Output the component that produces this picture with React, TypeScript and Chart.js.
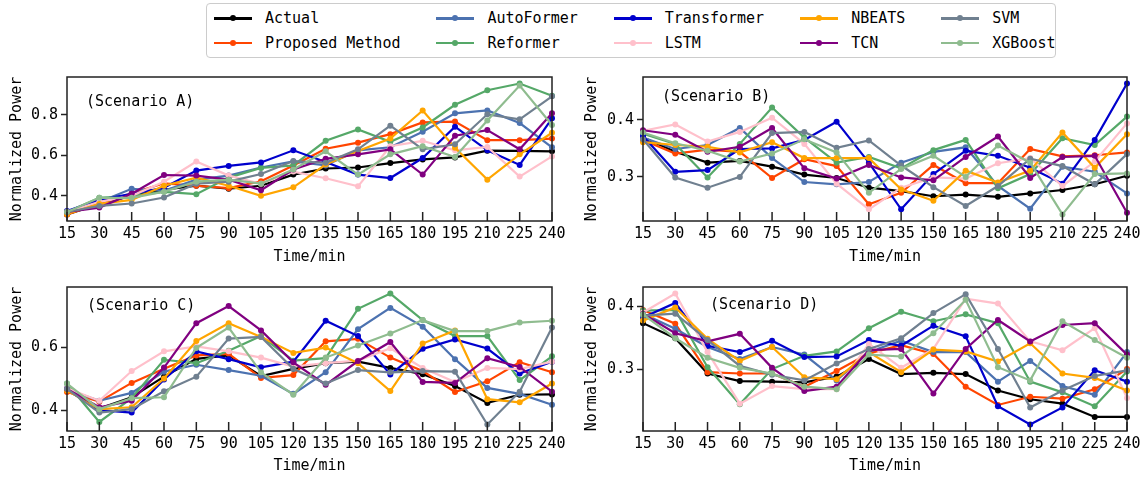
import React, { useEffect, useRef } from 'react';
import { Chart, registerables } from 'chart.js';

Chart.register(...registerables);

const FONT = '"DejaVu Sans Mono", monospace';

const timeLabels = ['15', '30', '45', '60', '75', '90', '105', '120', '135', '150', '165', '180', '195', '210', '225', '240'];

const seriesNames = ['Actual', 'Proposed Method', 'AutoFormer', 'Reformer', 'Transformer', 'LSTM', 'NBEATS', 'TCN', 'SVM', 'XGBoost'];
const seriesColors = ['#000000', '#FF4500', '#4C72B0', '#55A868', '#0000CD', '#FFC0CB', '#FFA500', '#800080', '#708090', '#8FBC8F'];

// Scenario A
const aActual = [0.308, 0.36, 0.40, 0.43, 0.45, 0.435, 0.45, 0.505, 0.535, 0.54, 0.562, 0.58, 0.59, 0.623, 0.622, 0.62];
const aProposed = [0.308, 0.362, 0.412, 0.462, 0.45, 0.438, 0.472, 0.55, 0.633, 0.663, 0.705, 0.763, 0.767, 0.675, 0.675, 0.683];
const aAutoFormer = [0.32, 0.37, 0.435, 0.425, 0.48, 0.50, 0.54, 0.57, 0.55, 0.625, 0.64, 0.717, 0.808, 0.822, 0.76, 0.64];
const aReformer = [0.32, 0.39, 0.40, 0.42, 0.408, 0.49, 0.538, 0.55, 0.672, 0.728, 0.667, 0.738, 0.85, 0.922, 0.955, 0.895];
const aTransformer = [0.325, 0.38, 0.41, 0.44, 0.525, 0.548, 0.565, 0.625, 0.567, 0.505, 0.488, 0.587, 0.742, 0.625, 0.553, 0.783];
const aLSTM = [0.32, 0.37, 0.40, 0.47, 0.57, 0.50, 0.46, 0.52, 0.487, 0.447, 0.645, 0.672, 0.625, 0.642, 0.495, 0.595];
const aNBEATS = [0.31, 0.36, 0.38, 0.45, 0.49, 0.45, 0.40, 0.442, 0.555, 0.622, 0.683, 0.822, 0.638, 0.48, 0.605, 0.712];
const aTCN = [0.32, 0.342, 0.41, 0.503, 0.50, 0.48, 0.428, 0.53, 0.583, 0.605, 0.63, 0.505, 0.697, 0.725, 0.63, 0.808];
const aSVM = [0.32, 0.35, 0.362, 0.392, 0.46, 0.47, 0.508, 0.572, 0.563, 0.63, 0.747, 0.63, 0.655, 0.803, 0.778, 0.892];
const aXGBoost = [0.32, 0.39, 0.39, 0.42, 0.47, 0.48, 0.46, 0.53, 0.62, 0.505, 0.605, 0.645, 0.592, 0.772, 0.945, 0.75];

// Scenario B
const bActual = [0.369, 0.344, 0.325, 0.328, 0.318, 0.304, 0.298, 0.281, 0.275, 0.266, 0.269, 0.265, 0.271, 0.277, 0.287, 0.302];
const bProposed = [0.365, 0.341, 0.348, 0.344, 0.298, 0.331, 0.319, 0.252, 0.272, 0.321, 0.289, 0.289, 0.349, 0.336, 0.338, 0.343];
const bAutoFormer = [0.369, 0.349, 0.356, 0.386, 0.333, 0.291, 0.287, 0.291, 0.325, 0.344, 0.352, 0.284, 0.244, 0.318, 0.309, 0.271];
const bReformer = [0.376, 0.358, 0.299, 0.358, 0.422, 0.369, 0.325, 0.335, 0.315, 0.347, 0.365, 0.280, 0.305, 0.368, 0.356, 0.406];
const bTransformer = [0.372, 0.309, 0.312, 0.349, 0.350, 0.365, 0.397, 0.325, 0.243, 0.305, 0.346, 0.337, 0.316, 0.288, 0.365, 0.464];
const bLSTM = [0.381, 0.392, 0.362, 0.379, 0.404, 0.358, 0.288, 0.243, 0.281, 0.299, 0.297, 0.324, 0.333, 0.284, 0.327, 0.394];
const bNBEATS = [0.361, 0.356, 0.353, 0.343, 0.361, 0.333, 0.333, 0.333, 0.278, 0.258, 0.311, 0.290, 0.311, 0.378, 0.316, 0.375];
const bTCN = [0.382, 0.374, 0.344, 0.353, 0.386, 0.315, 0.297, 0.321, 0.299, 0.294, 0.335, 0.371, 0.298, 0.335, 0.337, 0.237];
const bSVM = [0.366, 0.299, 0.281, 0.300, 0.377, 0.379, 0.351, 0.364, 0.32, 0.282, 0.249, 0.284, 0.332, 0.319, 0.287, 0.340];
const bXGBoost = [0.378, 0.359, 0.346, 0.327, 0.341, 0.366, 0.343, 0.272, 0.314, 0.337, 0.300, 0.355, 0.325, 0.234, 0.305, 0.306];

// Scenario C
const cActual = [0.463, 0.405, 0.441, 0.507, 0.564, 0.575, 0.509, 0.532, 0.55, 0.555, 0.535, 0.515, 0.477, 0.423, 0.449, 0.45];
const cProposed = [0.458, 0.427, 0.487, 0.532, 0.575, 0.58, 0.503, 0.512, 0.62, 0.628, 0.568, 0.525, 0.458, 0.492, 0.553, 0.521];
const cAutoFormer = [0.466, 0.43, 0.455, 0.523, 0.545, 0.528, 0.51, 0.452, 0.521, 0.659, 0.727, 0.667, 0.563, 0.471, 0.452, 0.417];
const cReformer = [0.485, 0.362, 0.438, 0.561, 0.55, 0.59, 0.637, 0.558, 0.566, 0.724, 0.773, 0.688, 0.637, 0.637, 0.496, 0.572];
const cTransformer = [0.468, 0.40, 0.392, 0.498, 0.588, 0.563, 0.537, 0.555, 0.686, 0.637, 0.514, 0.596, 0.626, 0.597, 0.517, 0.555];
const cLSTM = [0.47, 0.43, 0.525, 0.588, 0.604, 0.588, 0.568, 0.539, 0.55, 0.558, 0.598, 0.535, 0.49, 0.535, 0.531, 0.555];
const cNBEATS = [0.463, 0.403, 0.409, 0.501, 0.621, 0.678, 0.634, 0.583, 0.6, 0.55, 0.461, 0.613, 0.655, 0.435, 0.425, 0.485];
const cTCN = [0.468, 0.409, 0.43, 0.536, 0.678, 0.733, 0.655, 0.553, 0.481, 0.557, 0.618, 0.49, 0.487, 0.566, 0.538, 0.459];
const cSVM = [0.468, 0.392, 0.403, 0.46, 0.507, 0.629, 0.634, 0.532, 0.485, 0.528, 0.521, 0.525, 0.523, 0.354, 0.459, 0.664];
const cXGBoost = [0.485, 0.403, 0.438, 0.441, 0.599, 0.664, 0.521, 0.449, 0.568, 0.607, 0.645, 0.688, 0.653, 0.653, 0.68, 0.686];

// Scenario D
const dActual = [0.373, 0.349, 0.293, 0.281, 0.28, 0.279, 0.288, 0.316, 0.292, 0.294, 0.292, 0.266, 0.252, 0.245, 0.224, 0.224];
const dProposed = [0.394, 0.372, 0.295, 0.293, 0.293, 0.272, 0.297, 0.325, 0.338, 0.324, 0.272, 0.243, 0.256, 0.253, 0.268, 0.3];
const dAutoFormer = [0.388, 0.364, 0.335, 0.316, 0.335, 0.323, 0.282, 0.327, 0.345, 0.327, 0.327, 0.28, 0.313, 0.273, 0.259, 0.327];
const dReformer = [0.393, 0.394, 0.303, 0.244, 0.3, 0.321, 0.328, 0.365, 0.391, 0.376, 0.387, 0.373, 0.28, 0.263, 0.241, 0.296];
const dTransformer = [0.382, 0.405, 0.337, 0.327, 0.345, 0.319, 0.32, 0.346, 0.337, 0.369, 0.352, 0.241, 0.212, 0.239, 0.298, 0.28];
const dLSTM = [0.39, 0.42, 0.327, 0.245, 0.273, 0.268, 0.268, 0.34, 0.302, 0.332, 0.412, 0.404, 0.344, 0.33, 0.365, 0.254];
const dNBEATS = [0.377, 0.398, 0.348, 0.313, 0.335, 0.287, 0.284, 0.327, 0.295, 0.331, 0.328, 0.312, 0.341, 0.293, 0.286, 0.266];
const dTCN = [0.388, 0.357, 0.344, 0.356, 0.302, 0.265, 0.272, 0.33, 0.332, 0.261, 0.332, 0.378, 0.344, 0.37, 0.373, 0.323];
const dSVM = [0.385, 0.388, 0.346, 0.305, 0.291, 0.282, 0.309, 0.332, 0.349, 0.389, 0.419, 0.332, 0.239, 0.266, 0.289, 0.298];
const dXGBoost = [0.387, 0.349, 0.318, 0.302, 0.293, 0.272, 0.268, 0.323, 0.32, 0.357, 0.41, 0.303, 0.282, 0.376, 0.346, 0.318];

const ticksAC = [0.4, 0.6, 0.8];
const ticksBD = [0.3, 0.4];

type PanelCfg = {
  label: string;
  series: number[][];
  yTicks: number[];
  left: number;
  top: number;
  width: number;
  height: number;
  yAxisW: number;
  xAxisH: number;
  padTop: number;
  padRight: number;
  textDx: number;
  textDy: number;
};

const panels: PanelCfg[] = [
  {
    label: '(Scenario A)',
    series: [aActual, aProposed, aAutoFormer, aReformer, aTransformer, aLSTM, aNBEATS, aTCN, aSVM, aXGBoost],
    yTicks: ticksAC, left: 0, top: 70, width: 575, height: 200, yAxisW: 67, xAxisH: 49, padTop: 7, padRight: 23,
    textDx: 19, textDy: 25,
  },
  {
    label: '(Scenario B)',
    series: [bActual, bProposed, bAutoFormer, bReformer, bTransformer, bLSTM, bNBEATS, bTCN, bSVM, bXGBoost],
    yTicks: ticksBD, left: 575, top: 70, width: 570, height: 200, yAxisW: 68, xAxisH: 49, padTop: 7, padRight: 18,
    textDx: 19, textDy: 20,
  },
  {
    label: '(Scenario C)',
    series: [cActual, cProposed, cAutoFormer, cReformer, cTransformer, cLSTM, cNBEATS, cTCN, cSVM, cXGBoost],
    yTicks: ticksAC, left: 0, top: 280, width: 575, height: 199, yAxisW: 67, xAxisH: 48, padTop: 7, padRight: 23,
    textDx: 20, textDy: 19,
  },
  {
    label: '(Scenario D)',
    series: [dActual, dProposed, dAutoFormer, dReformer, dTransformer, dLSTM, dNBEATS, dTCN, dSVM, dXGBoost],
    yTicks: ticksBD, left: 575, top: 280, width: 570, height: 199, yAxisW: 68, xAxisH: 48, padTop: 7, padRight: 18,
    textDx: 67, textDy: 18,
  },
];

function Panel({ cfg }: { cfg: PanelCfg }) {
  const ref = useRef<HTMLCanvasElement>(null);
  useEffect(() => {
    const all = cfg.series.flat();
    const lo = Math.min(...all);
    const hi = Math.max(...all);
    const m = (hi - lo) * 0.05;
    const yMin = lo - m;
    const yMax = hi + m;
    const n = cfg.series.length;
    const framePlugin = {
      id: 'frame',
      afterDatasetsDraw(chart: any) {
        const { ctx, chartArea } = chart;
        const xs = chart.scales.x;
        ctx.save();
        ctx.strokeStyle = '#222';
        ctx.lineWidth = 1.5;
        ctx.strokeRect(chartArea.left, chartArea.top, chartArea.right - chartArea.left, chartArea.bottom - chartArea.top);
        ctx.beginPath();
        for (let i = 0; i < timeLabels.length; i++) {
          const x = xs.getPixelForValue(i);
          ctx.moveTo(x, chartArea.bottom);
          ctx.lineTo(x, chartArea.bottom - 9);
        }
        ctx.stroke();
        ctx.fillStyle = '#000';
        ctx.font = `15px ${FONT}`;
        ctx.textAlign = 'left';
        ctx.textBaseline = 'middle';
        ctx.fillText(cfg.label, chartArea.left + cfg.textDx, chartArea.top + cfg.textDy);
        ctx.restore();
      },
    };
    const chart = new Chart(ref.current as HTMLCanvasElement, {
      type: 'line',
      data: {
        labels: timeLabels,
        datasets: cfg.series.map((d, i) => ({
          label: seriesNames[i],
          data: d,
          borderColor: seriesColors[i],
          backgroundColor: seriesColors[i],
          pointBackgroundColor: seriesColors[i],
          pointBorderWidth: 0,
          pointRadius: 3,
          pointHoverRadius: 3,
          borderWidth: 2.2,
          tension: 0,
          order: n - i,
        })),
      },
      options: {
        animation: false,
        responsive: false,
        devicePixelRatio: 1,
        events: [],
        layout: { padding: { top: cfg.padTop, right: cfg.padRight, bottom: 0, left: 0 } },
        plugins: { legend: { display: false }, tooltip: { enabled: false } },
        scales: {
          x: {
            type: 'category',
            offset: false,
            grid: { display: false, drawTicks: false },
            border: { display: false },
            ticks: {
              autoSkip: false,
              maxRotation: 0,
              minRotation: 0,
              padding: 4,
              color: '#000',
              font: { family: FONT, size: 15 },
            },
            title: {
              display: true,
              text: 'Time/min',
              color: '#000',
              font: { family: FONT, size: 15 },
              padding: { top: 0, bottom: 4 },
            },
            afterFit: (s: any) => {
              s.height = cfg.xAxisH;
              s.paddingLeft = 0;
              s.paddingRight = 0;
            },
          },
          y: {
            type: 'linear',
            min: yMin,
            max: yMax,
            grid: {
              display: true,
              drawOnChartArea: false,
              drawTicks: true,
              tickLength: 6,
              tickWidth: 1.5,
              tickColor: '#222',
            },
            border: { display: false },
            afterBuildTicks: (s: any) => {
              s.ticks = cfg.yTicks.filter((v) => v >= yMin && v <= yMax).map((v) => ({ value: v }));
            },
            ticks: {
              padding: 3,
              color: '#000',
              font: { family: FONT, size: 15 },
              callback: (v: any) => Number(v).toFixed(1),
            },
            title: {
              display: true,
              text: 'Normalized Power',
              color: '#000',
              font: { family: FONT, size: 15 },
              padding: { top: 8, bottom: 0 },
            },
            afterFit: (s: any) => {
              s.width = cfg.yAxisW;
              s.paddingTop = 0;
              s.paddingBottom = 0;
            },
          },
        },
      },
      plugins: [framePlugin],
    } as any);
    return () => chart.destroy();
  }, [cfg]);
  return (
    <canvas
      ref={ref}
      width={cfg.width}
      height={cfg.height}
      style={{ position: 'absolute', left: cfg.left, top: cfg.top, width: cfg.width, height: cfg.height }}
    />
  );
}

const legendColumns = [
  [0, 1],
  [2, 3],
  [4, 5],
  [6, 7],
  [8, 9],
];

function Legend() {
  return (
    <div
      style={{
        position: 'absolute',
        left: 206,
        top: 3,
        width: 850,
        height: 55,
        boxSizing: 'border-box',
        border: '1px solid #cccccc',
        borderRadius: 4,
        background: '#fff',
        display: 'flex',
        flexDirection: 'row',
        gap: 36,
        paddingLeft: 7,
        paddingTop: 5,
        fontFamily: FONT,
        fontSize: 15,
        color: '#000',
        zIndex: 2,
      }}
    >
      {legendColumns.map((col, ci) => (
        <div key={ci} style={{ display: 'flex', flexDirection: 'column', gap: 6.5 }}>
          {col.map((si) => (
            <div key={si} style={{ display: 'flex', alignItems: 'center', height: 18 }}>
              <div style={{ position: 'relative', width: 38, height: 18, marginRight: 13 }}>
                <div
                  style={{
                    position: 'absolute',
                    left: 0,
                    top: 8,
                    width: 38,
                    height: 2.5,
                    background: seriesColors[si],
                  }}
                />
                <div
                  style={{
                    position: 'absolute',
                    left: 16,
                    top: 6.2,
                    width: 6,
                    height: 6,
                    borderRadius: 3,
                    background: seriesColors[si],
                  }}
                />
              </div>
              <span style={{ whiteSpace: 'nowrap', lineHeight: '18px' }}>{seriesNames[si]}</span>
            </div>
          ))}
        </div>
      ))}
    </div>
  );
}

export default function App() {
  return (
    <div style={{ position: 'absolute', left: 0, top: 0, width: 1145, height: 479, background: '#fff', overflow: 'hidden' }}>
      {panels.map((p, i) => (
        <Panel key={i} cfg={p} />
      ))}
      <Legend />
    </div>
  );
}
